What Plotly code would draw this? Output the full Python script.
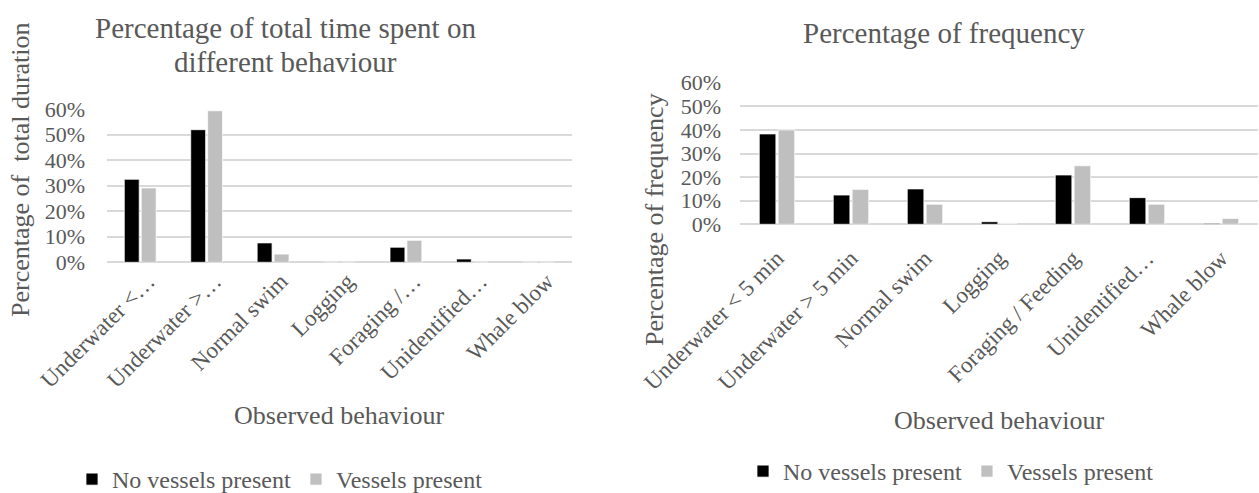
import plotly.graph_objects as go

# Behaviour categories (the left panel uses truncated labels)
duration_labels = ["Underwater <…", "Underwater >…", "Normal swim", "Logging",
                   "Foraging /…", "Unidentified…", "Whale blow"]
frequency_labels = ["Underwater < 5 min", "Underwater > 5 min", "Normal swim", "Logging",
                    "Foraging / Feeding", "Unidentified…", "Whale blow"]

# Percentage of total duration
duration_no_vessels = [0.325, 0.519, 0.076, 0.0, 0.059, 0.013, 0.0]
duration_vessels = [0.291, 0.593, 0.032, 0.0, 0.086, 0.0, 0.0]

# Percentage of frequency
frequency_no_vessels = [0.383, 0.124, 0.150, 0.011, 0.209, 0.113, 0.004]
frequency_vessels = [0.400, 0.148, 0.085, 0.004, 0.248, 0.085, 0.025]

y_ticks = [0, 0.1, 0.2, 0.3, 0.4, 0.5, 0.6]

W, H = 1259, 493
FONT = "Liberation Serif"
TEXT = "#595959"
GRID = "#d9d9d9"
BLACK = "#000000"
GREY = "#bfbfbf"


def px_x(v):
    return v / W


def px_y(v):
    return 1 - v / H


fig = go.Figure()

bar_line = dict(color="white", width=0.75)
fig.add_trace(go.Bar(x=duration_labels, y=duration_no_vessels, name="No vessels present",
                     marker=dict(color=BLACK, line=bar_line),
                     xaxis="x", yaxis="y", legend="legend"))
fig.add_trace(go.Bar(x=duration_labels, y=duration_vessels, name="Vessels present",
                     marker=dict(color=GREY, line=bar_line),
                     xaxis="x", yaxis="y", legend="legend"))
fig.add_trace(go.Bar(x=frequency_labels, y=frequency_no_vessels, name="No vessels present",
                     marker=dict(color=BLACK, line=bar_line),
                     xaxis="x2", yaxis="y2", legend="legend2"))
fig.add_trace(go.Bar(x=frequency_labels, y=frequency_vessels, name="Vessels present",
                     marker=dict(color=GREY, line=bar_line),
                     xaxis="x2", yaxis="y2", legend="legend2"))

x_tick_font = dict(family=FONT, size=23, color=TEXT)
y_tick_font = dict(family=FONT, size=22, color=TEXT)

xaxis_common = dict(type="category", tickangle=-45, tickfont=x_tick_font, showgrid=False,
                    showline=False, ticks="", fixedrange=True, automargin=False)
yaxis_common = dict(range=[0, 0.6], tickvals=y_ticks, tickformat=".0%", tickfont=y_tick_font,
                    showgrid=True, gridcolor=GRID, gridwidth=1.5, zeroline=True,
                    zerolinecolor=GRID, zerolinewidth=1.5, showline=False, ticks="",
                    fixedrange=True, automargin=False)

legend_font = dict(family=FONT, size=24, color=TEXT)

fig.update_layout(
    width=W, height=H,
    margin=dict(l=0, r=0, t=0, b=0, autoexpand=False),
    paper_bgcolor="white", plot_bgcolor="white",
    barmode="group", bargap=0.49, bargroupgap=0.12,
    font=dict(family=FONT, color=TEXT),
    xaxis=dict(domain=[px_x(107), px_x(572)], anchor="y", ticklabelstandoff=0,
               ticklabelshift=8, **xaxis_common),
    yaxis=dict(domain=[px_y(262.3), px_y(109)], anchor="x", ticklabelstandoff=21,
               **yaxis_common),
    xaxis2=dict(domain=[px_x(740), px_x(1258)], anchor="y2", ticklabelstandoff=15,
                **xaxis_common),
    yaxis2=dict(domain=[px_y(224.3), px_y(82.7)], anchor="x2", ticklabelstandoff=18,
                **yaxis_common),
    legend=dict(orientation="h", x=px_x(72), xanchor="left", y=px_y(457), yanchor="top",
                font=legend_font, bgcolor="rgba(0,0,0,0)"),
    legend2=dict(orientation="h", x=px_x(743), xanchor="left", y=px_y(449), yanchor="top",
                 font=legend_font, bgcolor="rgba(0,0,0,0)"),
    showlegend=True,
)

title_font = dict(family=FONT, size=29, color=TEXT)
axis_title_font = dict(family=FONT, size=26, color=TEXT)

annotations = [
    # panel titles
    dict(text="Percentage of total time spent on", x=px_x(285.3), y=px_y(28),
         font=title_font),
    dict(text="different behaviour", x=px_x(285.3), y=px_y(62), font=title_font),
    dict(text="Percentage of frequency", x=px_x(944), y=px_y(33), font=title_font),
    # axis titles
    dict(text="Observed behaviour", x=px_x(338.5), y=px_y(415), font=axis_title_font),
    dict(text="Observed behaviour", x=px_x(999), y=px_y(420), font=axis_title_font),
    dict(text="Percentage of  total duration", x=px_x(20), y=px_y(170), textangle=-90,
         font=axis_title_font),
    dict(text="Percentage of frequency", x=px_x(655), y=px_y(220), textangle=-90,
         font=axis_title_font),
]
for a in annotations:
    a.update(xref="paper", yref="paper", xanchor="center", yanchor="middle",
             showarrow=False)
fig.update_layout(annotations=annotations)

fig.write_html("out.html")
